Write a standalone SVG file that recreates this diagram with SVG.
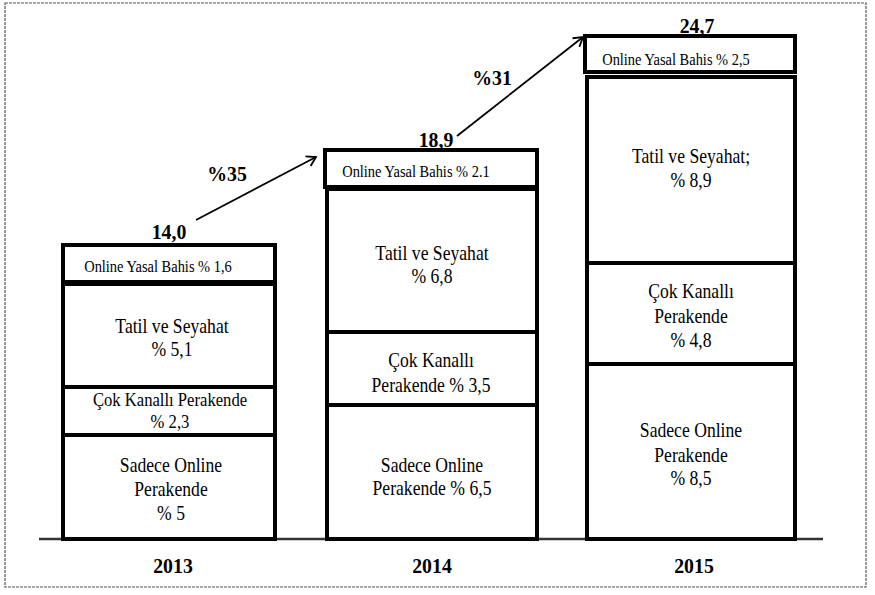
<svg xmlns="http://www.w3.org/2000/svg" width="875" height="595" viewBox="0 0 875 595">
<style>
.bg{fill:#fff}
.frame{fill:none;stroke:#555;stroke-width:1.2;stroke-dasharray:3 1}
.axis{stroke:#333;stroke-width:2.5}
.box{fill:#fff;stroke:#000;stroke-width:4}
.t{font-family:"Liberation Serif","Times New Roman","DejaVu Serif",serif;font-size:21px;text-anchor:middle;fill:#000}
.s{font-size:17px}
.m{font-size:18.5px}
.b{font-weight:bold;font-size:22px}
.conn{stroke:#000;stroke-width:1.8;fill:none;marker-end:url(#ah)}
</style>
<defs>
<marker id="ah" markerWidth="14" markerHeight="14" refX="11" refY="7" orient="auto" markerUnits="userSpaceOnUse">
<path d="M2,1.5 L11,7 L2,12.5" fill="none" stroke="#000" stroke-width="1.8"/>
</marker>
</defs>
<rect class="bg" x="0" y="0" width="875" height="595"/>
<rect class="frame" x="5" y="3" width="861" height="584"/>
<line class="axis" x1="39" y1="539" x2="823" y2="539"/>

<g id="bar2013">
<g id="n2013-online"><rect class="box" x="63" y="245" width="212" height="37"/>
<text class="t s" transform="translate(158,272) scale(0.85,1)">Online Yasal Bahis % 1,6</text></g>
<g id="n2013-tatil"><rect class="box" x="63" y="284" width="212" height="103"/>
<text class="t" transform="translate(172,333) scale(0.84,1)">Tatil ve Seyahat<tspan x="0" dy="23">% 5,1</tspan></text></g>
<g id="n2013-cok"><rect class="box" x="63" y="387" width="212" height="48"/>
<text class="t m" transform="translate(170,406) scale(0.9,1)">Çok Kanallı Perakende<tspan x="0" dy="22">% 2,3</tspan></text></g>
<g id="n2013-sadece"><rect class="box" x="63" y="435" width="212" height="104"/>
<text class="t" transform="translate(171,472) scale(0.84,1)">Sadece Online<tspan x="0" dy="24">Perakende</tspan><tspan x="0" dy="24">% 5</tspan></text></g>
</g>

<g id="bar2014">
<g id="n2014-online"><rect class="box" x="325" y="150" width="212" height="37"/>
<text class="t s" transform="translate(416,177) scale(0.85,1)">Online Yasal Bahis % 2.1</text></g>
<g id="n2014-tatil"><rect class="box" x="327" y="189" width="210" height="143"/>
<text class="t" transform="translate(432,260) scale(0.84,1)">Tatil ve Seyahat<tspan x="0" dy="23">% 6,8</tspan></text></g>
<g id="n2014-cok"><rect class="box" x="327" y="332" width="210" height="73"/>
<text class="t" transform="translate(431,367) scale(0.84,1)">Çok Kanallı<tspan x="0" dy="25">Perakende % 3,5</tspan></text></g>
<g id="n2014-sadece"><rect class="box" x="327" y="405" width="210" height="134"/>
<text class="t" transform="translate(432,472) scale(0.84,1)">Sadece Online<tspan x="0" dy="23">Perakende % 6,5</tspan></text></g>
</g>

<g id="bar2015">
<g id="n2015-online"><rect class="box" x="585" y="36" width="210" height="36"/>
<text class="t s" transform="translate(676,65) scale(0.85,1)">Online Yasal Bahis % 2,5</text></g>
<g id="n2015-tatil"><rect class="box" x="587" y="77" width="208" height="186"/>
<text class="t" transform="translate(691,163) scale(0.84,1)">Tatil ve Seyahat;<tspan x="0" dy="24">% 8,9</tspan></text></g>
<g id="n2015-cok"><rect class="box" x="587" y="263" width="208" height="101"/>
<text class="t" transform="translate(691,298) scale(0.84,1)">Çok Kanallı<tspan x="0" dy="25">Perakende</tspan><tspan x="0" dy="24">% 4,8</tspan></text></g>
<g id="n2015-sadece"><rect class="box" x="587" y="364" width="208" height="175"/>
<text class="t" transform="translate(691,437) scale(0.84,1)">Sadece Online<tspan x="0" dy="25">Perakende</tspan><tspan x="0" dy="23">% 8,5</tspan></text></g>
</g>

<g id="totals">
<text class="t b" transform="translate(169,239) scale(0.9,1)">14,0</text>
<text class="t b" transform="translate(436,147) scale(0.9,1)">18,9</text>
<text class="t b" transform="translate(697,33) scale(0.9,1)">24,7</text>
<text class="t b" transform="translate(227,181) scale(0.9,1)">%35</text>
<text class="t b" transform="translate(492,85) scale(0.9,1)">%31</text>
</g>

<g id="years">
<text class="t b" transform="translate(173,573) scale(0.9,1)">2013</text>
<text class="t b" transform="translate(432,573) scale(0.9,1)">2014</text>
<text class="t b" transform="translate(694,573) scale(0.9,1)">2015</text>
</g>

<g id="connectors">
<line class="conn" x1="196" y1="220" x2="316" y2="157"/>
<line class="conn" x1="457" y1="136" x2="583" y2="37"/>
</g>
</svg>
